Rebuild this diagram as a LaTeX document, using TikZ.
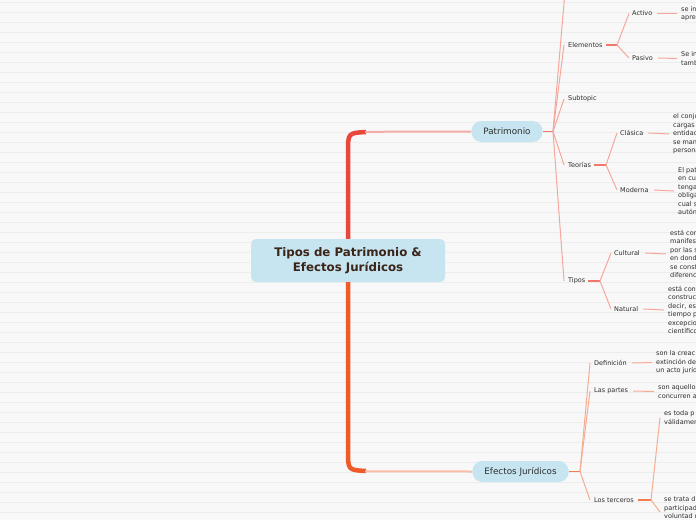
\documentclass[tikz,border=0pt]{standalone}
\usepackage{fontspec}
\setmainfont{DejaVu Sans}
\usetikzlibrary{positioning}

\definecolor{bgpaper}{HTML}{F8F8F8}
\definecolor{bgrule}{HTML}{EDEDED}
\definecolor{topicfill}{HTML}{C6E5F0}
\definecolor{rootink}{HTML}{3B2418}
\definecolor{inkgray}{HTML}{2E2E2E}
\definecolor{patred}{HTML}{E8473D}
\definecolor{patline}{HTML}{F6A79D}
\definecolor{patstub}{HTML}{F3766B}
\definecolor{efeorange}{HTML}{EE5A28}
\definecolor{efeline}{HTML}{F5AD92}
\definecolor{efestub}{HTML}{F07C50}

\begin{document}
\begin{tikzpicture}[x=1pt,y=-1pt,
	root/.style={rectangle,rounded corners=5pt,fill=topicfill,text=rootink,font=\fontsize{11.8}{15}\selectfont\bfseries,align=center,minimum width=194pt,minimum height=43pt,inner sep=0pt},
	main/.style={rectangle,rounded corners=10pt,fill=topicfill,text=inkgray,font=\fontsize{8.8}{10}\selectfont,minimum height=21pt,inner xsep=12pt,inner ysep=0pt},
	sub/.style={anchor=west,text=inkgray,font=\fontsize{6.5}{8.5}\selectfont,inner sep=0pt},
	leaf/.style={sub,align=left},
	patlink/.style={draw=patline,line width=1pt},
	patstem/.style={draw=patstub,line width=1.6pt},
	efelink/.style={draw=efeline,line width=1pt},
	efestem/.style={draw=efestub,line width=1.6pt}]
	\useasboundingbox (0,0) rectangle (696,520);
	\fill[bgpaper] (0,0) rectangle (696,520);
	\foreach \y in {2,12,...,522}
		\draw[bgrule,line width=0.8pt] (0,\y) -- (696,\y);
	\clip (0,0) rectangle (696,520);

	% main topics
	\node[root] (root) at (348,260.5) {Tipos de Patrimonio \&\\Efectos Jurídicos};
	\node[main] (pat) at (507,131.5) {Patrimonio};
	\node[main] (efe) at (520.5,471.5) {Efectos Jurídicos};

	% Patrimonio
	\node[sub] (elem) at (568,45) {Elementos};
	\node[sub] (subt) at (568,99) {Subtopic};
	\node[sub] (teor) at (568,165) {Teorías};
	\node[sub] (tipos) at (568,281) {Tipos};
	\node[sub] (activo) at (632,13.5) {Activo};
	\node[sub] (pasivo) at (632,58) {Pasivo};
	\node[sub] (clasica) at (620,133) {Clásica};
	\node[sub] (moderna) at (620,190) {Moderna};
	\node[sub] (cultural) at (614,253) {Cultural};
	\node[sub] (natural) at (614,309) {Natural};
	\node[leaf] (activoleaf) at (681,13.5) {se in\\apre};
	\node[leaf] (pasivoleaf) at (681,58.5) {Se in\\tamb};
	\node[leaf] (clasicaleaf) at (673,134) {el conju\\cargas\\entidad\\se man\\persona};
	\node[leaf] (modernaleaf) at (678,191) {El pat\\en cu\\tenga\\obliga\\cual s\\autón};
	\node[leaf] (culturalleaf) at (670,254) {está con\\manifest\\por las s\\en dond\\se const\\diferenc};
	\node[leaf] (naturalleaf) at (668,310) {está con\\construc\\decir, es\\tiempo p\\excepcio\\científico};

	% Efectos
	\node[sub] (defin) at (594,363) {Definición};
	\node[sub] (partes) at (594,391) {Las partes};
	\node[sub] (terceros) at (594,500) {Los terceros};
	\node[leaf] (definleaf) at (656,362.5) {son la creac\\extinción de\\un acto juríd};
	\node[leaf] (partesleaf) at (658,391.5) {son aquellos\\concurren a};
	\node[leaf] (terleafa) at (664,417.5) {es toda p\\válidamen};
	\node[leaf,anchor=north west] (terleafb) at (664,496.5) {se trata d\\participad\\voluntad n};

	\coordinate (patfan) at (553,131.5);
	\coordinate (patup) at (566,-20);
	\coordinate (elemfan) at (617,45);
	\coordinate (teorfan) at (606,165);
	\coordinate (tipfan) at (600,281);
	\coordinate (efefan) at (580,471.5);
	\coordinate (terfan) at (651,500);
	\coordinate (terdown) at (660,512);

	% trunk
	\draw[patred,line width=4.5pt] (root.north) -- (348,152) .. controls (348,133) .. (366,132);
	\draw[patred!45,line width=2pt] (365,131.8) -- (pat.west);
	\draw[efeorange,line width=4.5pt] (root.south) -- (348,451) .. controls (348,470) .. (366,471);
	\draw[efeorange!40,line width=2pt] (365,471.3) -- (efe.west);

	% Patrimonio links
	\draw[patstem] (pat.east) -- (patfan);
	\foreach \n in {elem,subt,teor,tipos}
		\draw[patlink] (patfan) -- ([xshift=-4pt]\n.west);
	\draw[patlink] (patfan) -- (patup);
	\draw[patstem] ([xshift=3pt]elem.east) -- (elemfan);
	\draw[patstem] ([xshift=3pt]teor.east) -- (teorfan);
	\draw[patstem] ([xshift=3pt]tipos.east) -- (tipfan);
	\foreach \f/\n in {elemfan/activo,elemfan/pasivo,teorfan/clasica,teorfan/moderna,tipfan/cultural,tipfan/natural}
		\draw[patlink] (\f) -- ([xshift=-3pt]\n.west);
	\foreach \n in {activo,pasivo,clasica,moderna,cultural,natural}
		\draw[patlink] ([xshift=5pt]\n.east) -- ([xshift=-4pt]\n leaf.west);

	% Efectos links
	\draw[efestem] (efe.east) -- (efefan);
	\foreach \n in {defin,partes,terceros}
		\draw[efelink] (efefan) -- ([xshift=-4pt]\n.west);
	\foreach \n in {defin,partes}
		\draw[efelink] ([xshift=5pt]\n.east) -- ([xshift=-4pt]\n leaf.west);
	\draw[efestem] ([xshift=4pt]terceros.east) -- (terfan);
	\draw[efelink] (terfan) -- ([xshift=-4pt]terleafa.west);
	\draw[efelink] (terfan) -- (terdown);
\end{tikzpicture}
\end{document}
